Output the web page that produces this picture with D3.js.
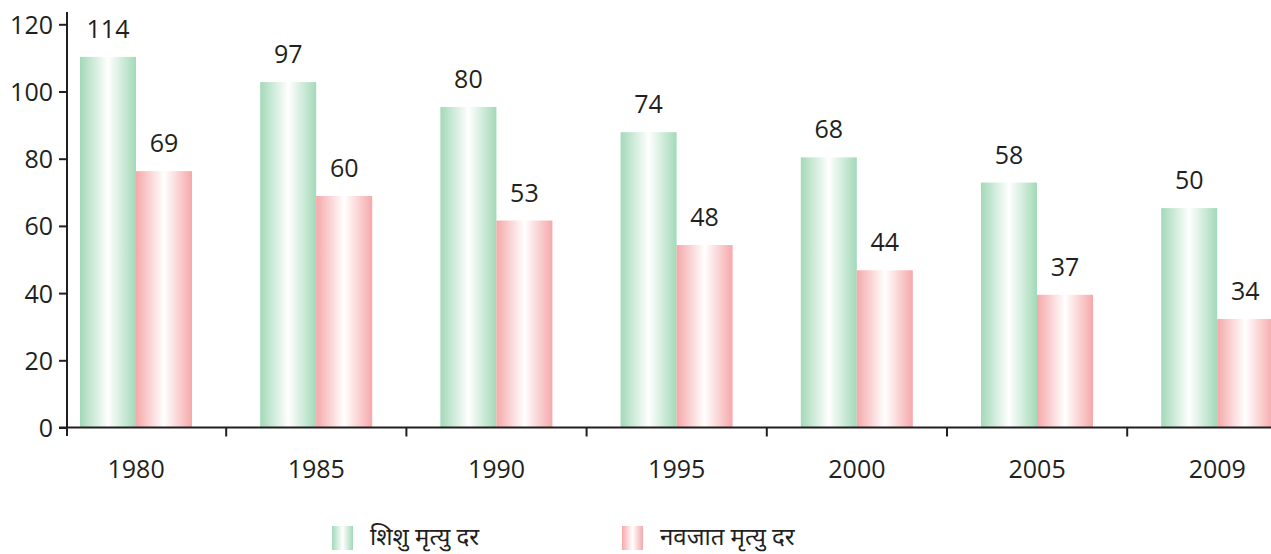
<!DOCTYPE html>
<html>
<head>
<meta charset="utf-8">
<script src="https://cdn.jsdelivr.net/npm/d3@7"></script>
<style>
  html, body { margin: 0; padding: 0; background: #fff; }
  svg { display: block; }
  text { font-family: "Open Sans", "Noto Sans", "DejaVu Sans", sans-serif; fill: #231f20; }
</style>
</head>
<body>
<svg id="chart" width="1271" height="554"></svg>
<script>
// ---- data ----
const years = ["1980", "1985", "1990", "1995", "2000", "2005", "2009"];
const seriesNames = ["शिशु मृत्यु दर", "नवजात मृत्यु दर"];
// bar heights as drawn in the picture
const infantBars = [110.3, 102.8, 95.4, 87.9, 80.4, 72.9, 65.3];
const neonatalBars = [76.3, 68.9, 61.6, 54.3, 46.8, 39.5, 32.3];
// value labels printed above the bars
const infantLabels = ["114", "97", "80", "74", "68", "58", "50"];
const neonatalLabels = ["69", "60", "53", "48", "44", "37", "34"];
const yTicks = [0, 20, 40, 60, 80, 100, 120];

const svg = d3.select("#chart");
const W = 1271, H = 554;
const axisX = 67;
const y = d3.scaleLinear().domain([0, 120]).range([427.5, 24.3]);
const x0 = d3.scaleBand().domain(years).range([46, 46 + 7 * 180.2]);
const x1 = d3.scaleBand().domain(["infant", "neonatal"]).range([34, 146]);

const colors = { infant: "#a3d9b8", neonatal: "#f6a8aa" };
const defs = svg.append("defs");
Object.entries(colors).forEach(([k, c]) => {
  const g = defs.append("linearGradient").attr("id", "grad-" + k)
    .attr("x1", "0%").attr("x2", "100%").attr("y1", "0%").attr("y2", "0%");
  g.append("stop").attr("offset", "0%").attr("stop-color", c);
  g.append("stop").attr("offset", "50%").attr("stop-color", "#ffffff");
  g.append("stop").attr("offset", "100%").attr("stop-color", c);
});

const rows = years.map((yr, i) => ({
  year: yr,
  bars: [
    { key: "infant", v: infantBars[i], label: infantLabels[i] },
    { key: "neonatal", v: neonatalBars[i], label: neonatalLabels[i] }
  ]
}));

const groups = svg.append("g").selectAll("g").data(rows).join("g")
  .attr("transform", d => `translate(${x0(d.year)},0)`);

groups.selectAll("rect").data(d => d.bars).join("rect")
  .attr("x", d => x1(d.key))
  .attr("width", x1.bandwidth())
  .attr("y", d => y(d.v))
  .attr("height", d => y(0) - y(d.v))
  .attr("fill", d => `url(#grad-${d.key})`);

groups.selectAll("text.val").data(d => d.bars).join("text")
  .attr("class", "val")
  .attr("x", d => x1(d.key) + x1.bandwidth() / 2)
  .attr("y", d => y(d.v) - 19)
  .attr("text-anchor", "middle")
  .style("font-size", "25px")
  .text(d => d.label);

// y axis
const yAxis = d3.axisLeft(y).tickValues(yTicks).tickSize(8).tickPadding(6);
const gy = svg.append("g").attr("transform", `translate(${axisX},0)`).call(yAxis);
gy.select(".domain").remove();
gy.selectAll(".tick line").attr("stroke", "#231f20").attr("stroke-width", 2);
gy.selectAll(".tick text").style("font-size", "25px").attr("dy", "0.36em").attr("fill", "#231f20");
svg.append("line").attr("x1", axisX).attr("x2", axisX).attr("y1", 12).attr("y2", 436)
  .attr("stroke", "#231f20").attr("stroke-width", 2);

// x axis
svg.append("line").attr("x1", axisX - 8).attr("x2", W).attr("y1", y(0)).attr("y2", y(0))
  .attr("stroke", "#231f20").attr("stroke-width", 2);
svg.append("g").selectAll("line").data(years.slice(1)).join("line")
  .attr("x1", d => x0(d)).attr("x2", d => x0(d))
  .attr("y1", y(0)).attr("y2", y(0) + 9)
  .attr("stroke", "#231f20").attr("stroke-width", 2);
svg.append("g").selectAll("text").data(years).join("text")
  .attr("x", d => x0(d) + x0.bandwidth() / 2)
  .attr("y", 478)
  .attr("text-anchor", "middle")
  .style("font-size", "25px")
  .text(d => d);

// legend
const legend = [
  { key: "infant", name: seriesNames[0], x: 332 },
  { key: "neonatal", name: seriesNames[1], x: 622 }
];
const lg = svg.append("g").selectAll("g").data(legend).join("g")
  .attr("transform", d => `translate(${d.x},526)`);
lg.append("rect").attr("width", 21).attr("height", 24)
  .attr("fill", d => `url(#grad-${d.key})`);
lg.append("text").attr("x", 38).attr("y", 19)
  .style("font-size", "24px")
  .style("font-family", "'Noto Sans Devanagari', 'Noto Sans', 'Lohit Devanagari', sans-serif")
  .text(d => d.name);
</script>
</body>
</html>
